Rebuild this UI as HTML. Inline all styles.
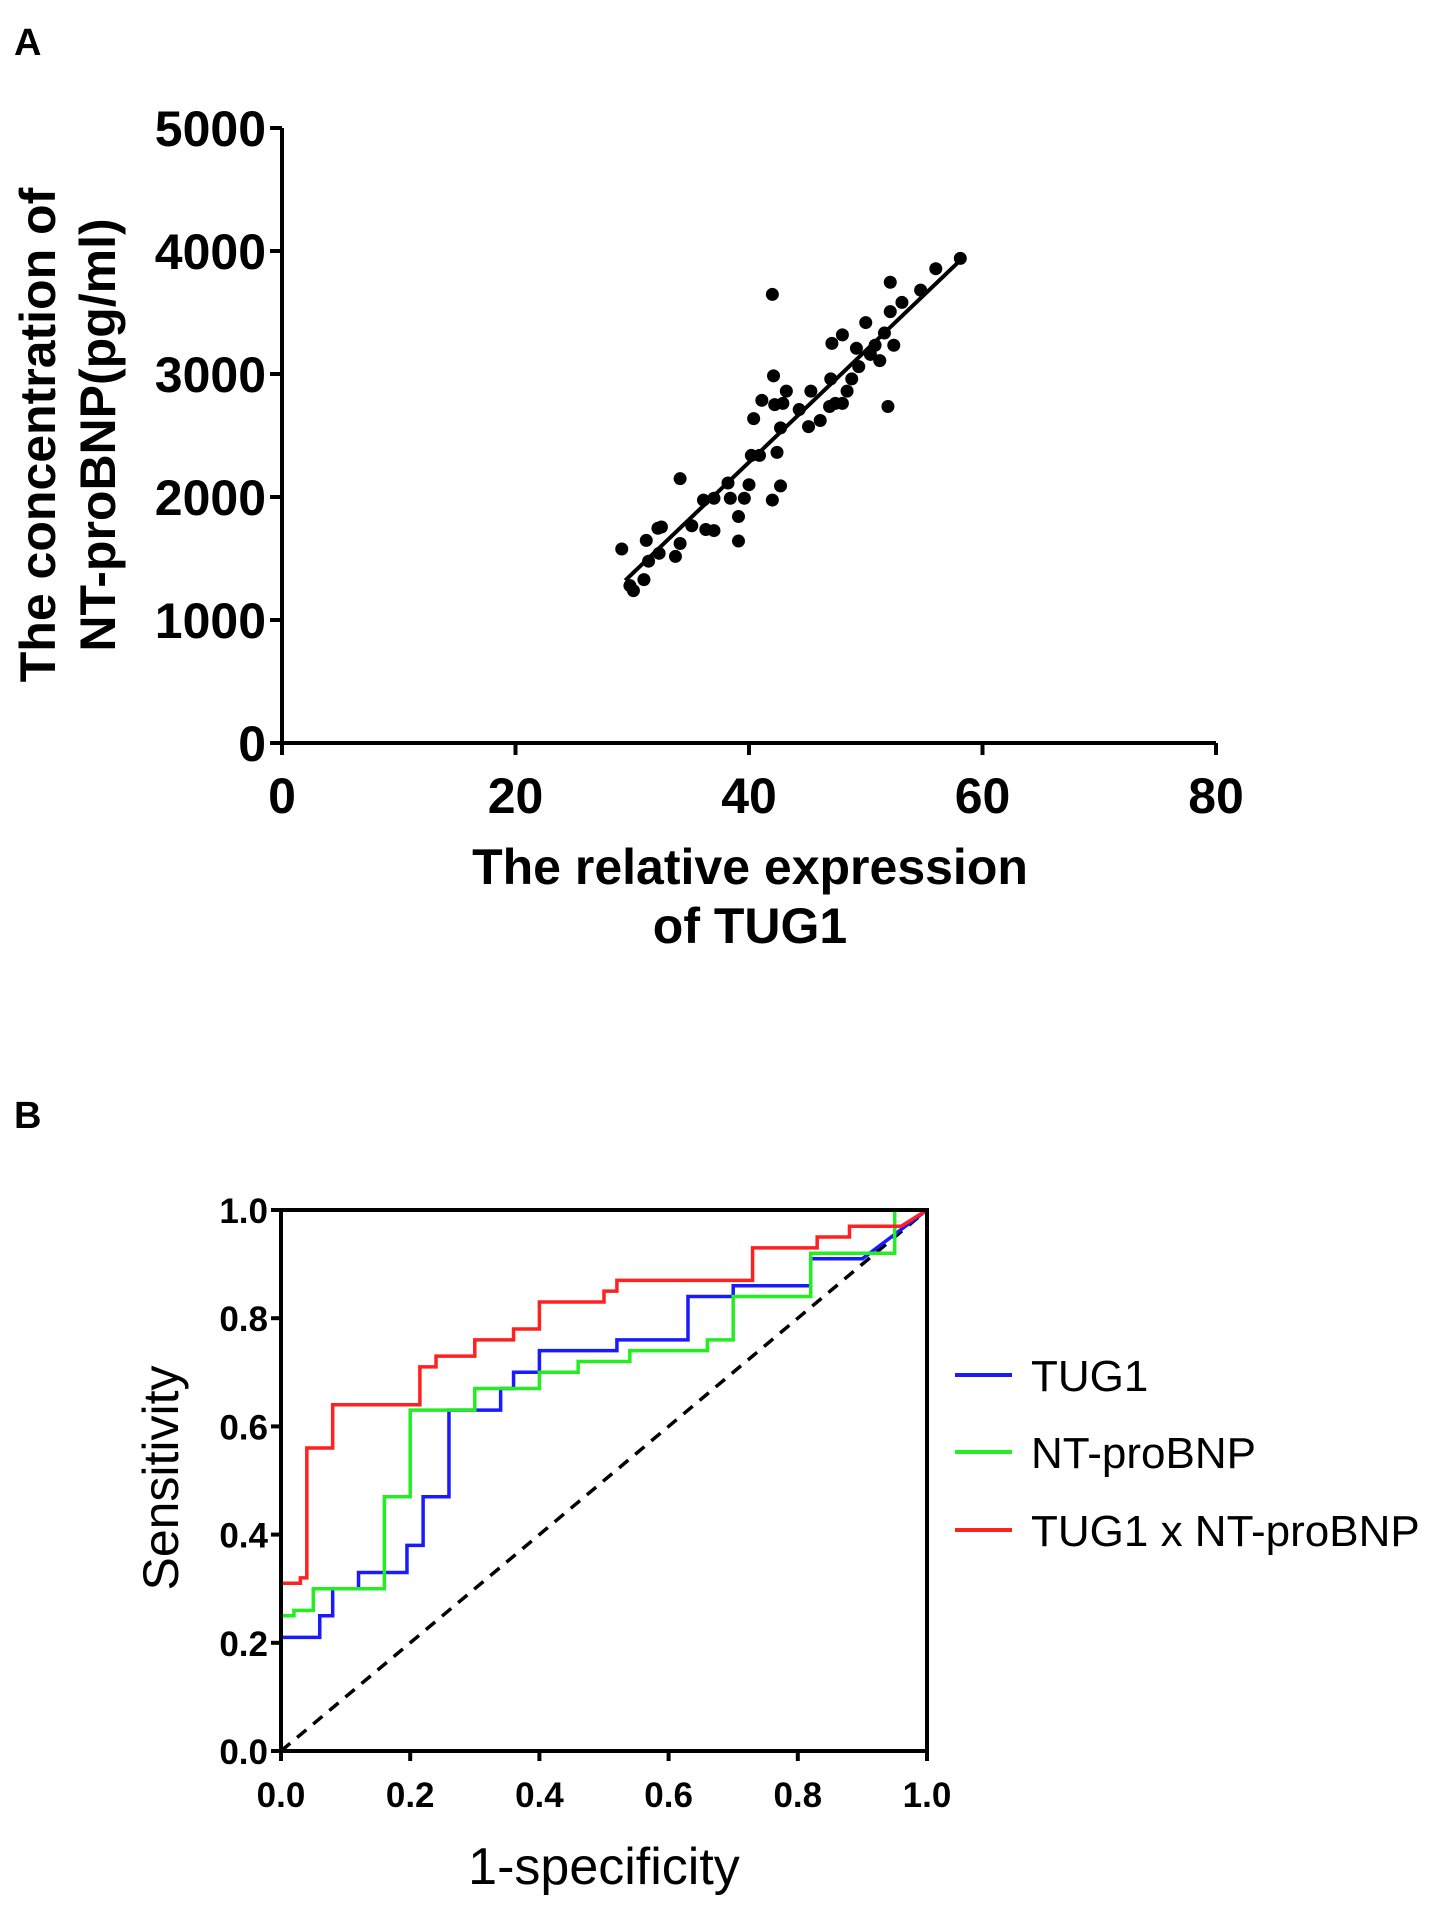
<!DOCTYPE html>
<html><head><meta charset="utf-8"><style>
html,body{margin:0;padding:0;background:#fff;}
svg{display:block;font-family:"Liberation Sans",sans-serif;}
</style></head><body>
<svg id="fig" width="1441" height="1910" viewBox="0 0 1441 1910">
<text x="14" y="55" font-size="38" font-weight="bold">A</text>
<g id="chartA"></g>
<text x="14" y="1128" font-size="38" font-weight="bold">B</text>
<g id="chartB"></g>
</svg>
<script>
const NS="http://www.w3.org/2000/svg";
// ---- Panel A data ----
const xTicksA=[0,20,40,60,80];
const yTicksA=[0,1000,2000,3000,4000,5000];
const tugX=[29.1,29.8,30.1,31.0,31.2,31.4,32.2,32.5,32.3,33.7,34.1,34.1,35.1,36.1,36.3,37.0,37.0,38.2,38.4,39.1,39.1,39.6,40.0,40.2,40.4,40.9,41.1,42.0,42.0,42.1,42.2,42.4,42.7,42.7,42.9,43.2,44.3,45.1,45.3,46.1,46.9,47.0,47.1,47.4,48.0,48.0,48.4,48.8,49.2,49.4,50.0,50.4,50.8,51.2,51.6,52.1,51.9,52.1,52.4,53.1,54.7,56.0,58.1];
const bnpY=[1577,1279,1239,1328,1647,1478,1746,1756,1542,1517,1622,2149,1766,1975,1736,1727,1990,2114,1990,1841,1642,1990,2100,2338,2637,2338,2786,3647,1975,2985,2751,2363,2562,2090,2761,2861,2711,2572,2861,2622,2736,2960,3249,2761,3318,2761,2861,2960,3209,3060,3418,3159,3234,3109,3333,3746,2736,3507,3234,3582,3682,3856,3940];
// ---- Panel B data ----
const ticksB=[0,0.2,0.4,0.6,0.8,1.0];
const tugFpr=[0,0.06,0.08,0.12,0.195,0.22,0.26,0.34,0.36,0.40,0.52,0.63,0.70,0.82,0.90,1.0];
const tugTpr=[0.21,0.25,0.30,0.33,0.38,0.47,0.63,0.67,0.70,0.74,0.76,0.84,0.86,0.91,0.91,1.0];
const bnpFpr=[0,0.02,0.05,0.16,0.20,0.30,0.34,0.40,0.46,0.54,0.66,0.70,0.82,0.93,0.95,1.0];
const bnpTpr=[0.25,0.26,0.30,0.47,0.63,0.67,0.67,0.70,0.72,0.74,0.76,0.84,0.92,0.92,1.0,1.0];
const combFpr=[0,0.03,0.04,0.08,0.215,0.24,0.26,0.30,0.36,0.40,0.50,0.52,0.73,0.83,0.88,0.96,1.0];
const combTpr=[0.31,0.32,0.56,0.64,0.71,0.73,0.73,0.76,0.78,0.83,0.85,0.87,0.93,0.95,0.97,0.97,1.0];
const seriesNames=["TUG1","NT-proBNP","TUG1 x  NT-proBNP"];

function mk(tag,attrs,parent,text){const e=document.createElementNS(NS,tag);for(const k in attrs)e.setAttribute(k,attrs[k]);if(text!==undefined)e.textContent=text;parent.appendChild(e);return e;}

// Panel A
const A=document.getElementById('chartA');
const ax0=282,ax1=1216,ay0=743,ay1=128;
const sxA=v=>ax0+(v-0)/80*(ax1-ax0);
const syA=v=>ay0-(v/5000)*(ay0-ay1);
let e;
e=mk('line',{x1:ax0,y1:ay0,x2:ax0,y2:ay1,stroke:'#000','stroke-width':4},A);

e=mk('line',{x1:ax0,y1:ay0,x2:ax1,y2:ay0,stroke:'#000','stroke-width':4},A);

yTicksA.forEach(t=>{const y=syA(t);
 e=mk('line',{x1:ax0-12,y1:y,x2:ax0,y2:y,stroke:'#000','stroke-width':4},A);
 
 e=mk('text',{x:ax0-16,y:y+18,'text-anchor':'end','font-size':50,'font-weight':'bold'},A,String(t));
 });
xTicksA.forEach(t=>{const x=sxA(t);
 e=mk('line',{x1:x,y1:ay0,x2:x,y2:ay0+12,stroke:'#000','stroke-width':4},A);
 
 e=mk('text',{x:x,y:ay0+70,'text-anchor':'middle','font-size':50,'font-weight':'bold'},A,String(t));
 });
e=mk('text',{x:750,y:884,'text-anchor':'middle','font-size':50,'font-weight':'bold'},A,'The relative expression');

e=mk('text',{x:750,y:943,'text-anchor':'middle','font-size':50,'font-weight':'bold'},A,'of TUG1');

e=mk('text',{x:0,y:0,'text-anchor':'middle','font-size':50,'font-weight':'bold',transform:'translate(55,435) rotate(-90)'},A,'The concentration of');

e=mk('text',{x:0,y:0,'text-anchor':'middle','font-size':50,'font-weight':'bold',transform:'translate(115,435) rotate(-90)'},A,'NT-proBNP(pg/ml)');

// regression
const n=tugX.length;let mx=0,my=0;for(let i=0;i<n;i++){mx+=tugX[i];my+=bnpY[i];}mx/=n;my/=n;
let sxy=0,sxx=0;for(let i=0;i<n;i++){sxy+=(tugX[i]-mx)*(bnpY[i]-my);sxx+=(tugX[i]-mx)**2;}
const slope=sxy/sxx,icpt=my-slope*mx;
const xmin=Math.min(...tugX)+0.3,xmax=Math.max(...tugX)+0.3;
e=mk('line',{x1:sxA(xmin),y1:syA(icpt+slope*xmin),x2:sxA(xmax),y2:syA(icpt+slope*xmax),stroke:'#000','stroke-width':4},A);

for(let i=0;i<n;i++){
 e=mk('circle',{cx:sxA(tugX[i]),cy:syA(bnpY[i]),r:6.5,fill:'#000'},A);
 
}

// Panel B
const B=document.getElementById('chartB');
const bx0=281,bx1=927,by0=1751,by1=1210;
const sxB=v=>bx0+v*(bx1-bx0);
const syB=v=>by0-v*(by0-by1);
const colors=['#1a1aff','#22ee22','#ff2020'];
const fprs=[tugFpr,bnpFpr,combFpr],tprs=[tugTpr,bnpTpr,combTpr];
const sNames=['tug1-roc-line','ntprobnp-roc-line','combined-roc-line'];
e=mk('line',{x1:sxB(0),y1:syB(0),x2:sxB(1),y2:syB(1),stroke:'#000','stroke-width':3.5,'stroke-dasharray':'12,9'},B);

[0,1,2].forEach(s=>{const xs=fprs[s],ys=tprs[s];
 let d='M'+sxB(xs[0])+','+syB(ys[0]);
 for(let i=1;i<xs.length;i++){
  if(i===xs.length-1){d+=' L'+sxB(xs[i])+','+syB(ys[i]);}
  else{d+=' L'+sxB(xs[i])+','+syB(ys[i-1])+' L'+sxB(xs[i])+','+syB(ys[i]);}
 }
 e=mk('path',{d:d,fill:'none',stroke:colors[s],'stroke-width':3.5},B);
 
});
e=mk('rect',{x:bx0,y:by1,width:bx1-bx0,height:by0-by1,fill:'none',stroke:'#000','stroke-width':4},B);

ticksB.forEach(t=>{
 const y=syB(t),x=sxB(t);
 e=mk('line',{x1:bx0-10,y1:y,x2:bx0,y2:y,stroke:'#000','stroke-width':4},B);
 
 e=mk('text',{x:bx0-13,y:y+13,'text-anchor':'end','font-size':35,'font-weight':'bold'},B,t.toFixed(1));
 
 e=mk('line',{x1:x,y1:by0,x2:x,y2:by0+10,stroke:'#000','stroke-width':4},B);
 
 e=mk('text',{x:x,y:by0+56,'text-anchor':'middle','font-size':35,'font-weight':'bold'},B,t.toFixed(1));
 
});
e=mk('text',{x:604,y:1884,'text-anchor':'middle','font-size':52},B,'1-specificity');

e=mk('text',{x:0,y:0,'text-anchor':'middle','font-size':50,transform:'translate(178,1478) rotate(-90)'},B,'Sensitivity');

const legY=[1375,1452,1530];
[0,1,2].forEach(s=>{
 e=mk('line',{x1:955,y1:legY[s],x2:1012,y2:legY[s],stroke:colors[s],'stroke-width':4},B);
 
 e=mk('text',{x:1031,y:legY[s]+16,'font-size':44},B,seriesNames[s]);
 
});
</script>
</body></html>
